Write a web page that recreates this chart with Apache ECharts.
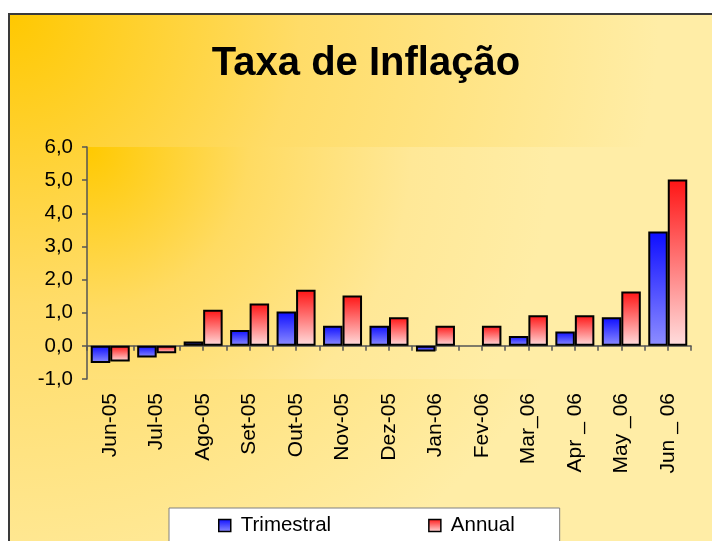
<!DOCTYPE html>
<html>
<head>
<meta charset="utf-8">
<script src="https://cdn.jsdelivr.net/npm/echarts@6/dist/echarts.min.js"></script>
<style>
html,body{margin:0;padding:0;background:#fff;}
#c{width:712px;height:541px;}
</style>
</head>
<body>
<div id="c"></div>
<script>
const categories = ["Jun-05","Jul-05","Ago-05","Set-05","Out-05","Nov-05","Dez-05","Jan-06","Fev-06","Mar_06","Apr _ 06","May _06","Jun _ 06"];
const trimestral = [-0.52,-0.35,0.13,0.48,1.04,0.61,0.61,-0.17,0,0.30,0.43,0.86,3.45];
const annual = [-0.47,-0.22,1.09,1.28,1.69,1.52,0.86,0.61,0.61,0.92,0.92,1.64,5.02];
const seriesNames = ["Trimestral","Annual"];
const titleText = "Taxa de Inflação";
const yTicks = {min:-1, max:6, interval:1};

const tickSlots = [];
for (let i = 0; i < categories.length * 2; i++) tickSlots.push('');

const FONT = 'Liberation Sans, Arial, sans-serif';
const chart = echarts.init(document.getElementById('c'), null, {renderer:'canvas'});

const blueGrad = new echarts.graphic.LinearGradient(0,0,0,1,[{offset:0,color:'#0d0dff'},{offset:1,color:'#8e8eff'}]);
const redGrad = new echarts.graphic.LinearGradient(0,0,0,1,[{offset:0,color:'#ff1414'},{offset:1,color:'#ffdede'}]);

function toItems(arr){
  return arr.map(v => v === 0 ? {value:v, itemStyle:{borderWidth:0}} : v);
}

chart.setOption({
  animation:false,
  backgroundColor:'#ffffff',
  graphic:[{
    type:'rect', z:-10, silent:true,
    shape:{x:9, y:14, width:720, height:540},
    style:{
      fill:new echarts.graphic.RadialGradient(0,0,1.2,[
        {offset:0,color:'#ffc800'},
        {offset:0.45,color:'#ffdc68'},
        {offset:1,color:'#ffeda6'}
      ]),
      stroke:'#3a3a3a', lineWidth:2
    }
  }],
  title:{
    text:titleText,
    left:366, top:44, textAlign:'center', padding:0,
    textStyle:{fontFamily:FONT, fontSize:40, fontWeight:'bold', color:'#000'}
  },
  legend:{
    data:seriesNames,
    left:169, top:508,
    orient:'horizontal',
    icon:'rect',
    padding:[7,45,30,49],
    itemGap:97,
    itemWidth:12, itemHeight:12,
    backgroundColor:'#ffffff',
    borderColor:'#808080', borderWidth:1,
    itemStyle:{borderWidth:1.5, borderColor:'#000'},
    textStyle:{fontFamily:FONT, fontSize:20.5, color:'#000', padding:[0,0,0,5]}
  },
  grid:{
    left:87, right:21, top:147, bottom:162,
    show:true, borderWidth:0,
    backgroundColor:new echarts.graphic.RadialGradient(0,0,2,[
      {offset:0,color:'#ffc900'},
      {offset:0.35,color:'#ffdb62'},
      {offset:0.7,color:'#ffe897'},
      {offset:1,color:'#ffeda6'}
    ])
  },
  xAxis:[{
    type:'category', data:categories, position:'bottom',
    axisLine:{show:false, onZero:false},
    axisTick:{show:false},
    splitLine:{show:false},
    axisLabel:{rotate:90, margin:14, fontFamily:FONT, fontSize:21, color:'#000', interval:0}
  },{
    type:'category', data:tickSlots, position:'bottom',
    axisLine:{show:true, onZero:true, onZeroAxisIndex:0, lineStyle:{color:'#555', width:1.5}},
    axisTick:{show:true, inside:false, length:5, lineStyle:{color:'#555', width:1.5}},
    axisLabel:{show:false},
    splitLine:{show:false}
  }],
  yAxis:{
    type:'value', min:yTicks.min, max:yTicks.max, interval:yTicks.interval,
    axisLine:{show:true, onZero:false, lineStyle:{color:'#555', width:1.5}},
    axisTick:{show:true, length:5, lineStyle:{color:'#555', width:1.5}},
    splitLine:{show:false},
    axisLabel:{margin:14, fontFamily:FONT, fontSize:20.5, color:'#000',
      formatter:v => v.toFixed(1).replace('.',',')}
  },
  series:[{
    name:seriesNames[0], type:'bar', xAxisIndex:0, data:toItems(trimestral),
    barWidth:19.5, barGap:'0%',
    itemStyle:{color:blueGrad, borderColor:'#000', borderWidth:2}
  },{
    name:seriesNames[1], type:'bar', xAxisIndex:0, data:toItems(annual),
    barWidth:19.5, barGap:'0%',
    itemStyle:{color:redGrad, borderColor:'#000', borderWidth:2}
  }]
});
</script>
</body>
</html>
